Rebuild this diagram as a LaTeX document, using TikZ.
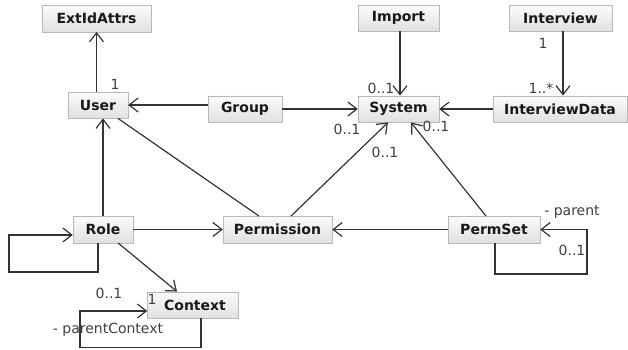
\documentclass[tikz,border=0pt]{standalone}
\usepackage{fontspec}
\setmainfont{DejaVu Sans}
\usetikzlibrary{arrows.meta}
\begin{document}
\begin{tikzpicture}[x=1bp,y=-1bp,
 box/.style={draw=gray!55, top color=gray!3, bottom color=gray!24, font=\fontsize{14bp}{16bp}\selectfont\bfseries, inner sep=0, minimum height=26.5bp, text=black!90},
 conn/.style={draw=black!80, line width=1.2bp},
 arr/.style={conn, -{Straight Barb[length=9bp,width=14bp,line width=1.2bp]}},
 lbl/.style={font=\fontsize{14bp}{16bp}\selectfont, text=black!75, inner sep=0}]
\useasboundingbox (0,0) rectangle (628,349);
\node[box, minimum width=109bp] (ext) at (96.5,18.5) {ExtIdAttrs};
\node[box, minimum width=60bp] (user) at (98,105) {User};
\node[box, minimum width=74bp] (group) at (245,109) {Group};
\node[box, minimum width=81bp] (imp) at (398.5,18) {Import};
\node[box, minimum width=103bp] (iv) at (560.5,18) {Interview};
\node[box, minimum width=81bp] (sys) at (398.5,109) {System};
\node[box, minimum width=134bp] (ivd) at (560,109) {InterviewData};
\node[box, minimum width=60bp] (role) at (103,229.5) {Role};
\node[box, minimum width=109bp] (perm) at (277.5,229.5) {Permission};
\node[box, minimum width=92bp] (pset) at (494,229.5) {PermSet};
\node[box, minimum width=91bp] (ctx) at (193,305) {\hspace*{4bp}Context};
% connectors
\draw[arr] (ext.south |- user.north) -- (ext.south);
\draw[arr] (group.west |- user.east) -- (user.east);
\draw[arr] (group) -- (sys);
\draw[arr] ([xshift=1.5bp]imp.south) -- ([xshift=1.5bp]imp.south |- sys.north);
\draw[arr] ([xshift=2.5bp]iv.south) -- ([xshift=2.5bp]iv.south |- ivd.north);
\draw[arr] (ivd) -- (sys);
\draw[arr] ([xshift=13.5bp]perm.north) -- ([xshift=-10.5bp]sys.south);
\draw[arr] ([xshift=-8bp]pset.north) -- ([xshift=12.5bp]sys.south);
\draw[conn] ([xshift=20bp]user.south) -- ([xshift=-18.5bp]perm.north);
\draw[arr] (role.north) -- (role.north |- user.south);
\draw[arr] (role) -- (perm);
\draw[arr] (pset) -- (perm);
\draw[arr] ([xshift=15bp]role.south) -- ([xshift=-16bp]ctx.north);
\draw[arr] ([xshift=-5bp]role.south) -- ++(0,29) -- ++(-89,0) |- ([yshift=-5.5bp]role.west);
\draw[arr] ([xshift=8bp]ctx.south) -- ++(0,29) -- ++(-121,0) |- ([yshift=-6bp]ctx.west);
\draw[arr] ([xshift=1bp]pset.south) -- ++(0,31) -- ++(92,0) |- (pset.east);
% labels
\node[lbl] (l1) at (115,84) {1};
\node[lbl] (l2) at (381,88) {0..1};
\node[lbl] (l3) at (347,129) {0..1};
\node[lbl] (l4) at (436,126) {0..1};
\node[lbl] (l5) at (385,152) {0..1};
\node[lbl] (l6) at (543,43) {1};
\node[lbl] (l7) at (541,88) {1..*};
\node[lbl] (l8) at (572,212) {- parent};
\node[lbl] (l9) at (572,250) {0..1};
\node[lbl] (l10) at (109,293) {0..1};
\node[lbl] (l11) at (152,299) {1};
\node[lbl] (l12) at (108,330) {- parentContext};
\end{tikzpicture}
\end{document}
